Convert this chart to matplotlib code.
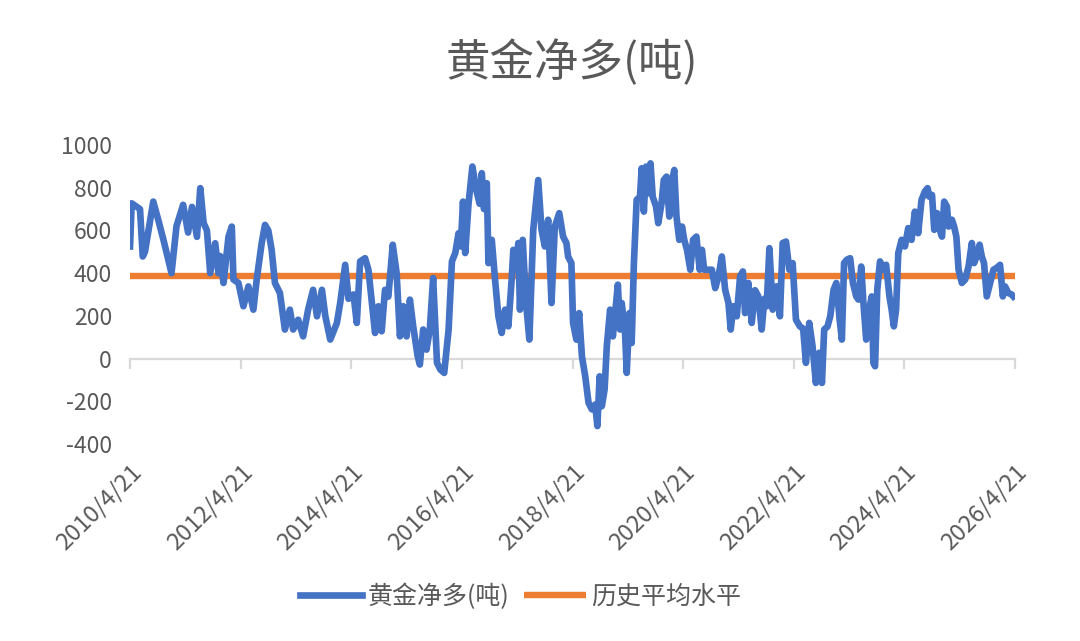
import numpy as np
import matplotlib
matplotlib.use('Agg')
from matplotlib import pyplot as plt

plt.rcParams['font.family'] = ['Noto Sans CJK SC', 'DejaVu Sans']
plt.rcParams['axes.unicode_minus'] = False

title = '黄金净多(吨)'
series_name = '黄金净多(吨)'
avg_name = '历史平均水平'
avg_level = 385

# decimal years
years = [
    2010.30, 2010.33, 2010.48, 2010.53, 2010.57, 2010.72, 2010.81, 2010.91, 2011.05, 2011.14,
    2011.26, 2011.35, 2011.42, 2011.51, 2011.57, 2011.63, 2011.69, 2011.75, 2011.84, 2011.90,
    2011.93, 2011.99, 2012.08, 2012.14, 2012.17, 2012.26, 2012.35, 2012.44, 2012.53, 2012.59,
    2012.68, 2012.74, 2012.80, 2012.86, 2012.92, 2013.01, 2013.10, 2013.19, 2013.25, 2013.34,
    2013.43, 2013.52, 2013.61, 2013.68, 2013.77, 2013.83, 2013.92, 2014.04, 2014.10, 2014.19,
    2014.25, 2014.34, 2014.40, 2014.46, 2014.55, 2014.61, 2014.73, 2014.79, 2014.85, 2014.91,
    2014.97, 2015.05, 2015.12, 2015.18, 2015.24, 2015.30, 2015.36, 2015.42, 2015.50, 2015.54,
    2015.60, 2015.66, 2015.72, 2015.78, 2015.85, 2015.91, 2015.98, 2016.06, 2016.12, 2016.18,
    2016.24, 2016.28, 2016.32, 2016.36, 2016.42, 2016.49, 2016.56, 2016.62, 2016.66, 2016.70,
    2016.75, 2016.78, 2016.84, 2016.90, 2016.96, 2017.02, 2017.08, 2017.14, 2017.20, 2017.23,
    2017.28, 2017.32, 2017.35, 2017.40, 2017.46, 2017.52, 2017.59, 2017.68, 2017.74, 2017.80,
    2017.86, 2017.92, 2017.98, 2018.06, 2018.13, 2018.19, 2018.22, 2018.28, 2018.31, 2018.37,
    2018.42, 2018.47, 2018.53, 2018.59, 2018.65, 2018.71, 2018.75, 2018.79, 2018.83, 2018.88,
    2018.92, 2018.98, 2019.03, 2019.07, 2019.12, 2019.16, 2019.19, 2019.25, 2019.28, 2019.33,
    2019.37, 2019.41, 2019.46, 2019.52, 2019.55, 2019.59, 2019.63, 2019.67, 2019.71, 2019.75,
    2019.81, 2019.85, 2019.91, 2019.95, 2020.00, 2020.05, 2020.09, 2020.14, 2020.18, 2020.23,
    2020.28, 2020.32, 2020.37, 2020.43, 2020.48, 2020.54, 2020.60, 2020.64, 2020.68, 2020.74,
    2020.82, 2020.88, 2020.94, 2021.00, 2021.06, 2021.12, 2021.16, 2021.21, 2021.27, 2021.33,
    2021.38, 2021.42, 2021.48, 2021.54, 2021.60, 2021.66, 2021.72, 2021.77, 2021.81, 2021.86,
    2021.92, 2021.99, 2022.05, 2022.10, 2022.16, 2022.22, 2022.28, 2022.34, 2022.41, 2022.47,
    2022.52, 2022.58, 2022.64, 2022.70, 2022.76, 2022.81, 2022.85, 2022.91, 2022.96, 2023.02,
    2023.07, 2023.13, 2023.17, 2023.21, 2023.26, 2023.32, 2023.37, 2023.43, 2023.47, 2023.52,
    2023.56, 2023.61, 2023.65, 2023.71, 2023.74, 2023.77, 2023.81, 2023.86, 2023.92, 2023.97,
    2024.03, 2024.07, 2024.11, 2024.15, 2024.19, 2024.25, 2024.31, 2024.37, 2024.43, 2024.49,
    2024.55, 2024.61, 2024.67, 2024.72, 2024.75, 2024.80, 2024.84, 2024.89, 2024.94, 2024.98,
    2025.02, 2025.07, 2025.10, 2025.16, 2025.20, 2025.24, 2025.28, 2025.34, 2025.40, 2025.46,
    2025.52, 2025.56, 2025.61, 2025.66, 2025.70, 2025.74, 2025.79, 2025.85, 2025.91, 2025.97,
    2026.03, 2026.08, 2026.12, 2026.18, 2026.24, 2026.27,
]

net_long = [
    525, 727, 700, 478, 500, 735, 650, 550, 400, 620,
    720, 590, 710, 570, 798, 635, 600, 400, 540, 400,
    480, 354, 570, 618, 370, 354, 245, 338, 229, 370,
    540, 626, 600, 510, 354, 307, 136, 229, 136, 182,
    104, 229, 322, 198, 322, 200, 89, 167, 261, 439,
    280, 300, 167, 455, 470, 416, 120, 245, 128, 322,
    290, 533, 400, 104, 245, 104, 276, 151, 11, -28,
    136, 42, 136, 377, -20, -51, -67, 136, 455, 494,
    587, 525, 735, 494, 725, 899, 790, 725, 868, 700,
    821, 447, 556, 369, 198, 120, 229, 151, 369, 509,
    416, 541, 229, 556, 260, 89, 603, 836, 603, 525,
    650, 260, 618, 681, 571, 541, 478, 447, 167, 89,
    213, 11, -83, -207, -238, -215, -316, -83, -223, -145,
    58, 229, 104, 213, 346, 136, 260, 120, -67, 213,
    73, 447, 743, 758, 891, 688, 899, 774, 914, 758,
    712, 634, 727, 836, 852, 665, 820, 883, 665, 556,
    618, 556, 509, 416, 556, 571, 416, 509, 416, 416,
    416, 330, 385, 478, 322, 260, 136, 245, 198, 385,
    408, 213, 354, 167, 320, 291, 136, 280, 245, 517,
    229, 338, 198, 541, 548, 416, 447, 182, 151, 140,
    -20, 167, 58, -114, 27, -114, 136, 150, 198, 322,
    354, 182, 89, 447, 463, 470, 354, 291, 276, 431,
    260, 89, 213, 291, -20, -36, 322, 455, 416, 439,
    291, 229, 151, 229, 494, 556, 525, 611, 556, 688,
    587, 743, 782, 798, 758, 766, 603, 681, 603, 571,
    735, 712, 618, 650, 618, 571, 416, 354, 370, 431,
    541, 447, 480, 533, 478, 447, 291, 354, 416, 425,
    439, 291, 338, 307, 300, 291,
]

tick_years = [2010.30, 2012.30, 2014.30, 2016.30, 2018.30, 2020.30, 2022.30, 2024.30, 2026.30]
tick_labels = ['2010/4/21', '2012/4/21', '2014/4/21', '2016/4/21', '2018/4/21',
               '2020/4/21', '2022/4/21', '2024/4/21', '2026/4/21']
y_ticks = [-400, -200, 0, 200, 400, 600, 800, 1000]

blue = '#4472C4'
orange = '#ED7D31'
text_gray = '#595959'
axis_gray = '#D9D9D9'

fig = plt.figure(figsize=(10.8, 6.41), dpi=100)
ax = fig.add_axes([0.1204, 0.3073, 0.8194, 0.4665])

ax.plot(years, net_long, color=blue, linewidth=4.8, solid_joinstyle='round',
        label=series_name, zorder=3)
ax.plot([tick_years[0], tick_years[-1]], [avg_level, avg_level], color=orange,
        linewidth=4.6, solid_capstyle='butt', label=avg_name, zorder=2)

ax.set_xlim(tick_years[0], tick_years[-1])
ax.set_ylim(-400, 1000)
ax.set_yticks(y_ticks)
ax.tick_params(axis='y', length=0, pad=13, labelsize=16.5, labelcolor=text_gray)

for side in ['left', 'right', 'top']:
    ax.spines[side].set_visible(False)
ax.spines['bottom'].set_position(('data', 0))
ax.spines['bottom'].set_color(axis_gray)
ax.spines['bottom'].set_linewidth(1.6)
ax.spines['bottom'].set_zorder(1)
ax.set_xticks(tick_years)
ax.tick_params(axis='x', length=7, width=1.6, color=axis_gray, labelbottom=False)

sec = ax.secondary_xaxis('bottom')
sec.set_xticks(tick_years)
sec.set_xticklabels(tick_labels, rotation=45, ha='right', rotation_mode='anchor')
sec.tick_params(length=0, pad=12, labelsize=17, labelcolor=text_gray)
sec.spines['bottom'].set_visible(False)

fig.text(0.5296, 0.902, title, ha='center', va='center', fontsize=32, color=text_gray)

fig.legend(loc='center', bbox_to_anchor=(0.482, 0.069), ncol=2, frameon=False,
           fontsize=18, labelcolor=text_gray, handlelength=2.5, handletextpad=0.2,
           columnspacing=0.6)

fig.savefig('out.png', dpi=100)
